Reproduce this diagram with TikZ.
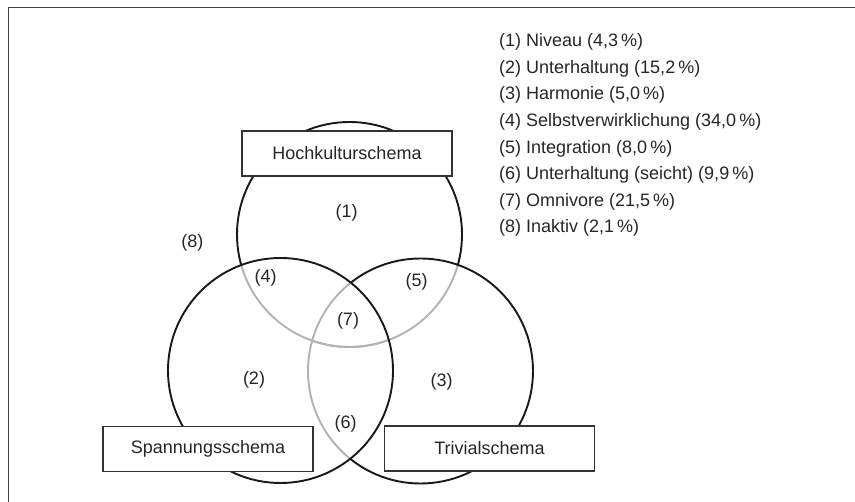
\documentclass[tikz,border=0pt]{standalone}
\usepackage{fontspec}
\setmainfont{Liberation Sans}
\usepackage{tikz}
\usetikzlibrary{positioning}

\begin{document}
\begin{tikzpicture}[
        x=1pt, y=-1pt,
        every node/.style={font=\fontsize{18}{21}\selectfont, inner sep=0pt, text=black!85},
        ring/.style={line width=1.9pt, black!90},
        faint/.style={line width=1.9pt, gray!60},
        schema/.style={draw=black!80, line width=1.3pt, fill=white, minimum width=210pt, minimum height=45pt},
        legend/.style={anchor=west}
    ]
    \useasboundingbox (0,0) rectangle (855,502);

    % Frame
    \draw[line width=1.4pt, black!75] (8.3,502) -- (8.3,7.7) -- (855,7.7);

    % Circles
    \coordinate (hoch) at (349.5,234.5);
    \coordinate (spann) at (280.5,370.5);
    \coordinate (triv) at (420.5,371);

    \begin{scope}[even odd rule]
      \clip (0,0) rectangle (855,502) (spann) circle[radius=112.5pt];
      \begin{scope}[even odd rule]
        \clip (0,0) rectangle (855,502) (triv) circle[radius=112.5pt];
        \draw[ring] (hoch) circle[radius=112.5pt];
      \end{scope}
    \end{scope}
    \begin{scope}
      \clip (spann) circle[radius=112.5pt];
      \draw[faint] (hoch) circle[radius=112.5pt];
      \draw[faint] (triv) circle[radius=112.5pt];
    \end{scope}
    \begin{scope}
      \clip (triv) circle[radius=112.5pt];
      \draw[faint] (hoch) circle[radius=112.5pt];
    \end{scope}
    \begin{scope}[even odd rule]
      \clip (0,0) rectangle (855,502) (spann) circle[radius=112.5pt];
      \draw[ring] (triv) circle[radius=112.5pt];
    \end{scope}
    \draw[ring] (spann) circle[radius=112.5pt];

    % Schema boxes
    \node[schema] (hochbox) at (347,153.5) {Hochkulturschema};
    \node[schema] (spannbox) at (208,449) {Spannungsschema};
    \node[schema] (trivbox) at (489.5,448.5) {Trivialschema};

    % Regions
    \node (r1) at (346.7,213.3) {(1)};
    \node (r2) at (254,380) {(2)};
    \node (r3) at (441.7,381.7) {(3)};
    \node (r4) at (265.7,278) {(4)};
    \node (r5) at (416.7,281.7) {(5)};
    \node (r6) at (345.7,424.3) {(6)};
    \node (r7) at (348,320.7) {(7)};
    \node (r8) at (192.3,242.7) {(8)};

    % Legend
    \node[legend] (l1) at (499,42) {(1) Niveau (4,3\,\%)};
    \node[legend] (l2) at (499,68.6) {(2) Unterhaltung (15,2\,\%)};
    \node[legend] (l3) at (499,95.2) {(3) Harmonie (5,0\,\%)};
    \node[legend] (l4) at (499,121.8) {(4) Selbstverwirklichung (34,0\,\%)};
    \node[legend] (l5) at (499,148.4) {(5) Integration (8,0\,\%)};
    \node[legend] (l6) at (499,175) {(6) Unterhaltung (seicht) (9,9\,\%)};
    \node[legend] (l7) at (499,201.6) {(7) Omnivore (21,5\,\%)};
    \node[legend] (l8) at (499,228.2) {(8) Inaktiv (2,1\,\%)};

\end{tikzpicture}
\end{document}
